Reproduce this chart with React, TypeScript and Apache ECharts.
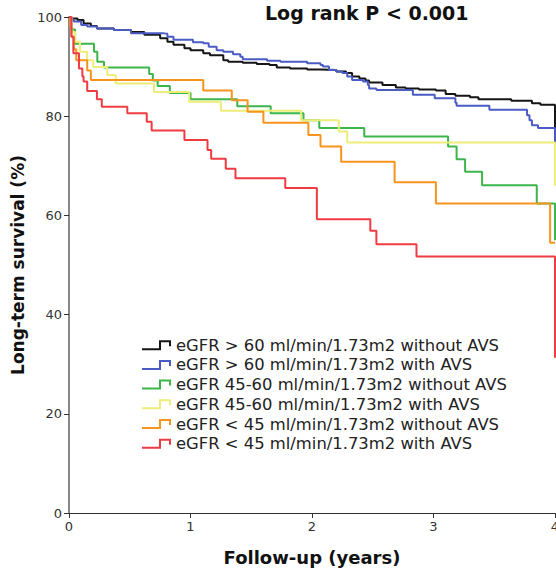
import React, { useEffect, useRef } from "react";
import * as echarts from "echarts";

// Kaplan-Meier steps: [years, survival %] (value after each drop)
const gfrHighNoAvs: [number, number][] = [
  [0, 100], [0.02, 99.7], [0.07, 99.4], [0.12, 98.7], [0.18, 98.2], [0.23, 97.7], [0.37, 97.4],
  [0.51, 97.0], [0.62, 96.4], [0.75, 95.7], [0.81, 95.0], [0.86, 94.4], [0.95, 93.7], [1.0, 93.3],
  [1.105, 92.7], [1.16, 92.3], [1.27, 91.3], [1.31, 91.0], [1.43, 90.8], [1.545, 90.5], [1.65, 90.3],
  [1.71, 89.8], [1.82, 89.6], [1.96, 89.4], [2.07, 89.3], [2.2, 89.0], [2.28, 88.7], [2.33, 88.0],
  [2.39, 87.6], [2.44, 87.2], [2.47, 86.8], [2.58, 86.3], [2.69, 85.8], [2.77, 85.6], [2.88, 85.4],
  [3.02, 85.2], [3.1, 84.5], [3.18, 84.1], [3.3, 83.8], [3.37, 83.4], [3.64, 83.1], [3.81, 82.6],
  [3.88, 82.3], [4.0, 72],
];
const gfrHighAvs: [number, number][] = [
  [0, 100], [0.02, 99.5], [0.04, 99.1], [0.1, 98.4], [0.15, 98.1], [0.23, 97.7], [0.37, 97.4],
  [0.51, 96.7], [0.78, 96.6], [0.81, 96.0], [0.86, 95.4], [1.02, 94.9], [1.105, 94.7], [1.15, 94.0],
  [1.215, 93.3], [1.27, 93.0], [1.35, 92.5], [1.41, 92.0], [1.43, 91.5], [1.63, 91.2], [1.74, 91.0],
  [1.96, 90.7], [2.07, 90.3], [2.09, 90.0], [2.14, 89.3], [2.2, 89.0], [2.25, 88.7], [2.29, 88.0],
  [2.33, 87.3], [2.42, 87.0], [2.46, 86.3], [2.47, 85.6], [2.53, 85.3], [2.83, 84.3], [3.01, 83.6],
  [3.18, 82.7], [3.19, 82.1], [3.46, 81.3], [3.77, 80.2], [3.79, 79.2], [3.81, 78.2], [3.86, 77.6],
  [4.0, 71],
];
const gfrMidNoAvs: [number, number][] = [
  [0, 100], [0.02, 97.5], [0.05, 94.6], [0.206, 93.0], [0.233, 91.0], [0.288, 89.8], [0.66, 88.5],
  [0.69, 87.2], [0.73, 86.1], [0.83, 84.7], [1.0, 83.4], [1.385, 82.0], [1.66, 80.6], [1.93, 79.2],
  [2.06, 77.6], [2.43, 75.9], [3.12, 73.9], [3.19, 71.3], [3.26, 68.8], [3.4, 66.1], [3.85, 62.4],
  [4.0, 55],
];
const gfrMidAvs: [number, number][] = [
  [0, 100], [0.02, 97], [0.05, 95], [0.09, 93], [0.15, 91.3], [0.2, 89.9], [0.315, 88.3],
  [0.384, 86.6], [0.7, 84.9], [0.99, 82.9], [1.25, 81.1], [1.91, 79.2], [2.22, 76.9], [2.29, 74.7],
  [4.0, 66],
];
const gfrLowNoAvs: [number, number][] = [
  [0, 100], [0.01, 98], [0.02, 96], [0.04, 93.5], [0.06, 91.3], [0.15, 89.2], [0.18, 87.3],
  [1.105, 85.2], [1.34, 83.2], [1.47, 80.9], [1.6, 78.7], [1.97, 76.2], [2.07, 73.9], [2.24, 70.8],
  [2.68, 66.7], [3.02, 62.4], [3.96, 54.5], [4.0, 54.5],
];
const gfrLowAvs: [number, number][] = [
  [0, 100], [0.02, 96], [0.036, 92.7], [0.082, 89.6], [0.11, 88.0], [0.12, 87.0], [0.15, 85.1],
  [0.23, 83.4], [0.27, 81.9], [0.48, 80.6], [0.64, 78.9], [0.68, 77.1], [0.95, 75.2], [1.14, 73.2],
  [1.17, 71.4], [1.29, 69.4], [1.37, 67.5], [1.78, 65.5], [2.04, 59.2], [2.48, 56.9], [2.53, 54.2],
  [2.86, 51.7], [4.0, 31.3],
];

const seriesNames = [
  "eGFR > 60 ml/min/1.73m2 without AVS",
  "eGFR > 60 ml/min/1.73m2 with AVS",
  "eGFR 45-60 ml/min/1.73m2 without AVS",
  "eGFR 45-60 ml/min/1.73m2 with AVS",
  "eGFR < 45 ml/min/1.73m2 without AVS",
  "eGFR < 45 ml/min/1.73m2 with AVS",
];
const seriesData = [gfrHighNoAvs, gfrHighAvs, gfrMidNoAvs, gfrMidAvs, gfrLowNoAvs, gfrLowAvs];
const seriesColors = ["#151515", "#4a5cc4", "#3cb54a", "#eded78", "#f7941d", "#ef3b42"];

const titleText = "Log rank P < 0.001";
const xName = "Follow-up (years)";
const yName = "Long-term survival (%)";

const FONT = "DejaVu Sans";
const stepIcon = "path://M0,8 L17,8 L17,0 L29,0 L29,6 L27,6 L27,2 L19,2 L19,10 L0,10 Z";

export default function App() {
  const ref = useRef<HTMLDivElement>(null);
  useEffect(() => {
    if (!ref.current) return;
    const chart = echarts.init(ref.current, null, { renderer: "svg" });
    chart.setOption({
      animation: false,
      backgroundColor: "#ffffff",
      title: {
        text: titleText,
        left: 260,
        top: -2,
        textStyle: { fontFamily: FONT, fontWeight: "bold", fontSize: 19, color: "#111" },
      },
      legend: {
        orient: "vertical",
        left: 142,
        top: 337,
        padding: 0,
        icon: stepIcon,
        itemWidth: 29,
        itemHeight: 10,
        itemGap: 3.3,
        itemStyle: { borderWidth: 0 },
        textStyle: { fontFamily: FONT, fontSize: 16.4, color: "#222", lineHeight: 16.4 },
        data: seriesNames,
      },
      grid: { left: 69, right: 1, top: 17, bottom: 59, outerBoundsMode: "none", containLabel: false },
      xAxis: {
        type: "value",
        min: 0,
        max: 4,
        interval: 1,
        name: xName,
        nameLocation: "middle",
        nameGap: 35,
        nameTextStyle: { fontFamily: FONT, fontWeight: "bold", fontSize: 18, color: "#111" },
        axisLine: { lineStyle: { color: "#333", width: 1 } },
        axisTick: { show: true, length: 5, lineStyle: { color: "#333" } },
        axisLabel: { fontFamily: FONT, fontSize: 13, color: "#333", margin: 7 },
        splitLine: { show: false },
      },
      yAxis: {
        type: "value",
        min: 0,
        max: 100,
        interval: 20,
        name: yName,
        nameLocation: "middle",
        nameGap: 33,
        nameTextStyle: { fontFamily: FONT, fontWeight: "bold", fontSize: 17, color: "#111" },
        axisLine: { show: true, lineStyle: { color: "#888", width: 2 } },
        axisTick: { show: true, length: 5, lineStyle: { color: "#333" } },
        axisLabel: { fontFamily: FONT, fontSize: 13, color: "#333", margin: 7 },
        splitLine: { show: false },
      },
      series: seriesNames.map((name, i) => ({
        name,
        type: "line",
        step: "end",
        data: seriesData[i],
        showSymbol: false,
        symbol: "none",
        color: seriesColors[i],
        lineStyle: { color: seriesColors[i], width: 2 },
        itemStyle: { color: seriesColors[i] },
      })),
    });
    return () => chart.dispose();
  }, []);
  return (
    <div
      ref={ref}
      style={{ position: "fixed", left: 0, top: 0, width: 556, height: 572, background: "#fff" }}
    />
  );
}
